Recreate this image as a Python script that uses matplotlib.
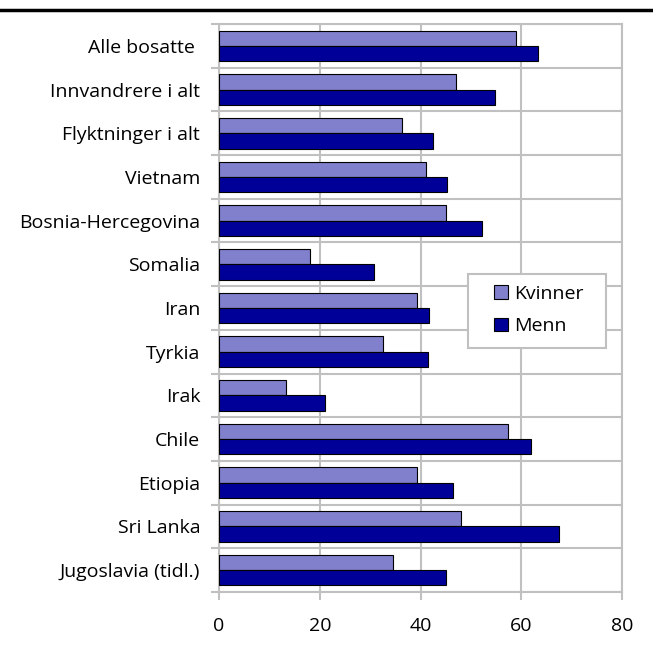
import numpy as np
import matplotlib.pyplot as plt
from matplotlib.patches import Rectangle

# Data (share in percent)
labels = ['Alle bosatte ', 'Innvandrere i alt', 'Flyktninger i alt', 'Vietnam',
          'Bosnia-Hercegovina', 'Somalia', 'Iran', 'Tyrkia', 'Irak', 'Chile',
          'Etiopia', 'Sri Lanka', 'Jugoslavia (tidl.)']
kvinner = [58.9, 47.1, 36.3, 41.0, 45.0, 18.1, 39.4, 32.5, 13.3, 57.3, 39.4, 48.0, 34.5]
menn = [63.4, 54.7, 42.4, 45.2, 52.3, 30.8, 41.7, 41.5, 21.0, 61.9, 46.5, 67.5, 45.1]
xticks = [0, 20, 40, 60, 80]

plt.rcParams['font.family'] = ['Open Sans', 'DejaVu Sans']
grid_col = '#c0c0c0'
W, H = 653, 651

fig = plt.figure(figsize=(6.53, 6.51), dpi=100)
ax = fig.add_axes([219 / W, 1 - 592 / H, 403 / W, 568 / H])

n = len(labels)
y = np.arange(n)
h = 0.35
ax.barh(y - h / 2, kvinner, height=h, color='#8080cc', edgecolor='black',
        linewidth=0.8, label='Kvinner', zorder=3)
ax.barh(y + h / 2, menn, height=h, color='#000099', edgecolor='black',
        linewidth=0.8, label='Menn', zorder=3)

ax.set_xlim(0, 80)
ax.set_ylim(n - 0.5, -0.5)

# category boundaries as major ticks, labels at centers
ax.set_yticks(np.arange(n + 1) - 0.5)
ax.set_yticklabels([])
ax.set_yticks(y, minor=True)
ax.set_yticklabels(labels, minor=True, fontsize=14)
ax.tick_params(axis='y', which='major', length=5.5, width=1.5, color=grid_col)
ax.tick_params(axis='y', which='minor', length=0, pad=13.5)

ax.set_xticks(xticks)
ax.set_xticklabels([str(v) for v in xticks], fontsize=14)
ax.tick_params(axis='x', length=6, width=1.5, color=grid_col, pad=12)

ax.grid(True, which='major', color=grid_col, linewidth=1.5, zorder=0)
for s in ax.spines.values():
    s.set_color(grid_col)
    s.set_linewidth(1.5)

# legend frame drawn separately (wider side padding than matplotlib allows)
ax.add_patch(Rectangle(((468 - 219) / 403, (592 - 348) / 568), 138 / 403, 74 / 568,
                       transform=ax.transAxes, facecolor='white', edgecolor=grid_col,
                       linewidth=1.5, zorder=4))
leg = ax.legend(loc='center left',
                bbox_to_anchor=((494 - 219) / 403, (592 - 310) / 568),
                fontsize=14, frameon=False,
                handlelength=0.72, handleheight=0.72, handletextpad=0.3,
                borderpad=0, labelspacing=0.75, borderaxespad=0)
leg.set_zorder(5)

# black rule at the top
fig.add_artist(plt.Line2D([0.002, 1], [1 - 10 / H, 1 - 10 / H],
                          color='black', linewidth=2.5, transform=fig.transFigure))

fig.savefig('out.png', dpi=100)
